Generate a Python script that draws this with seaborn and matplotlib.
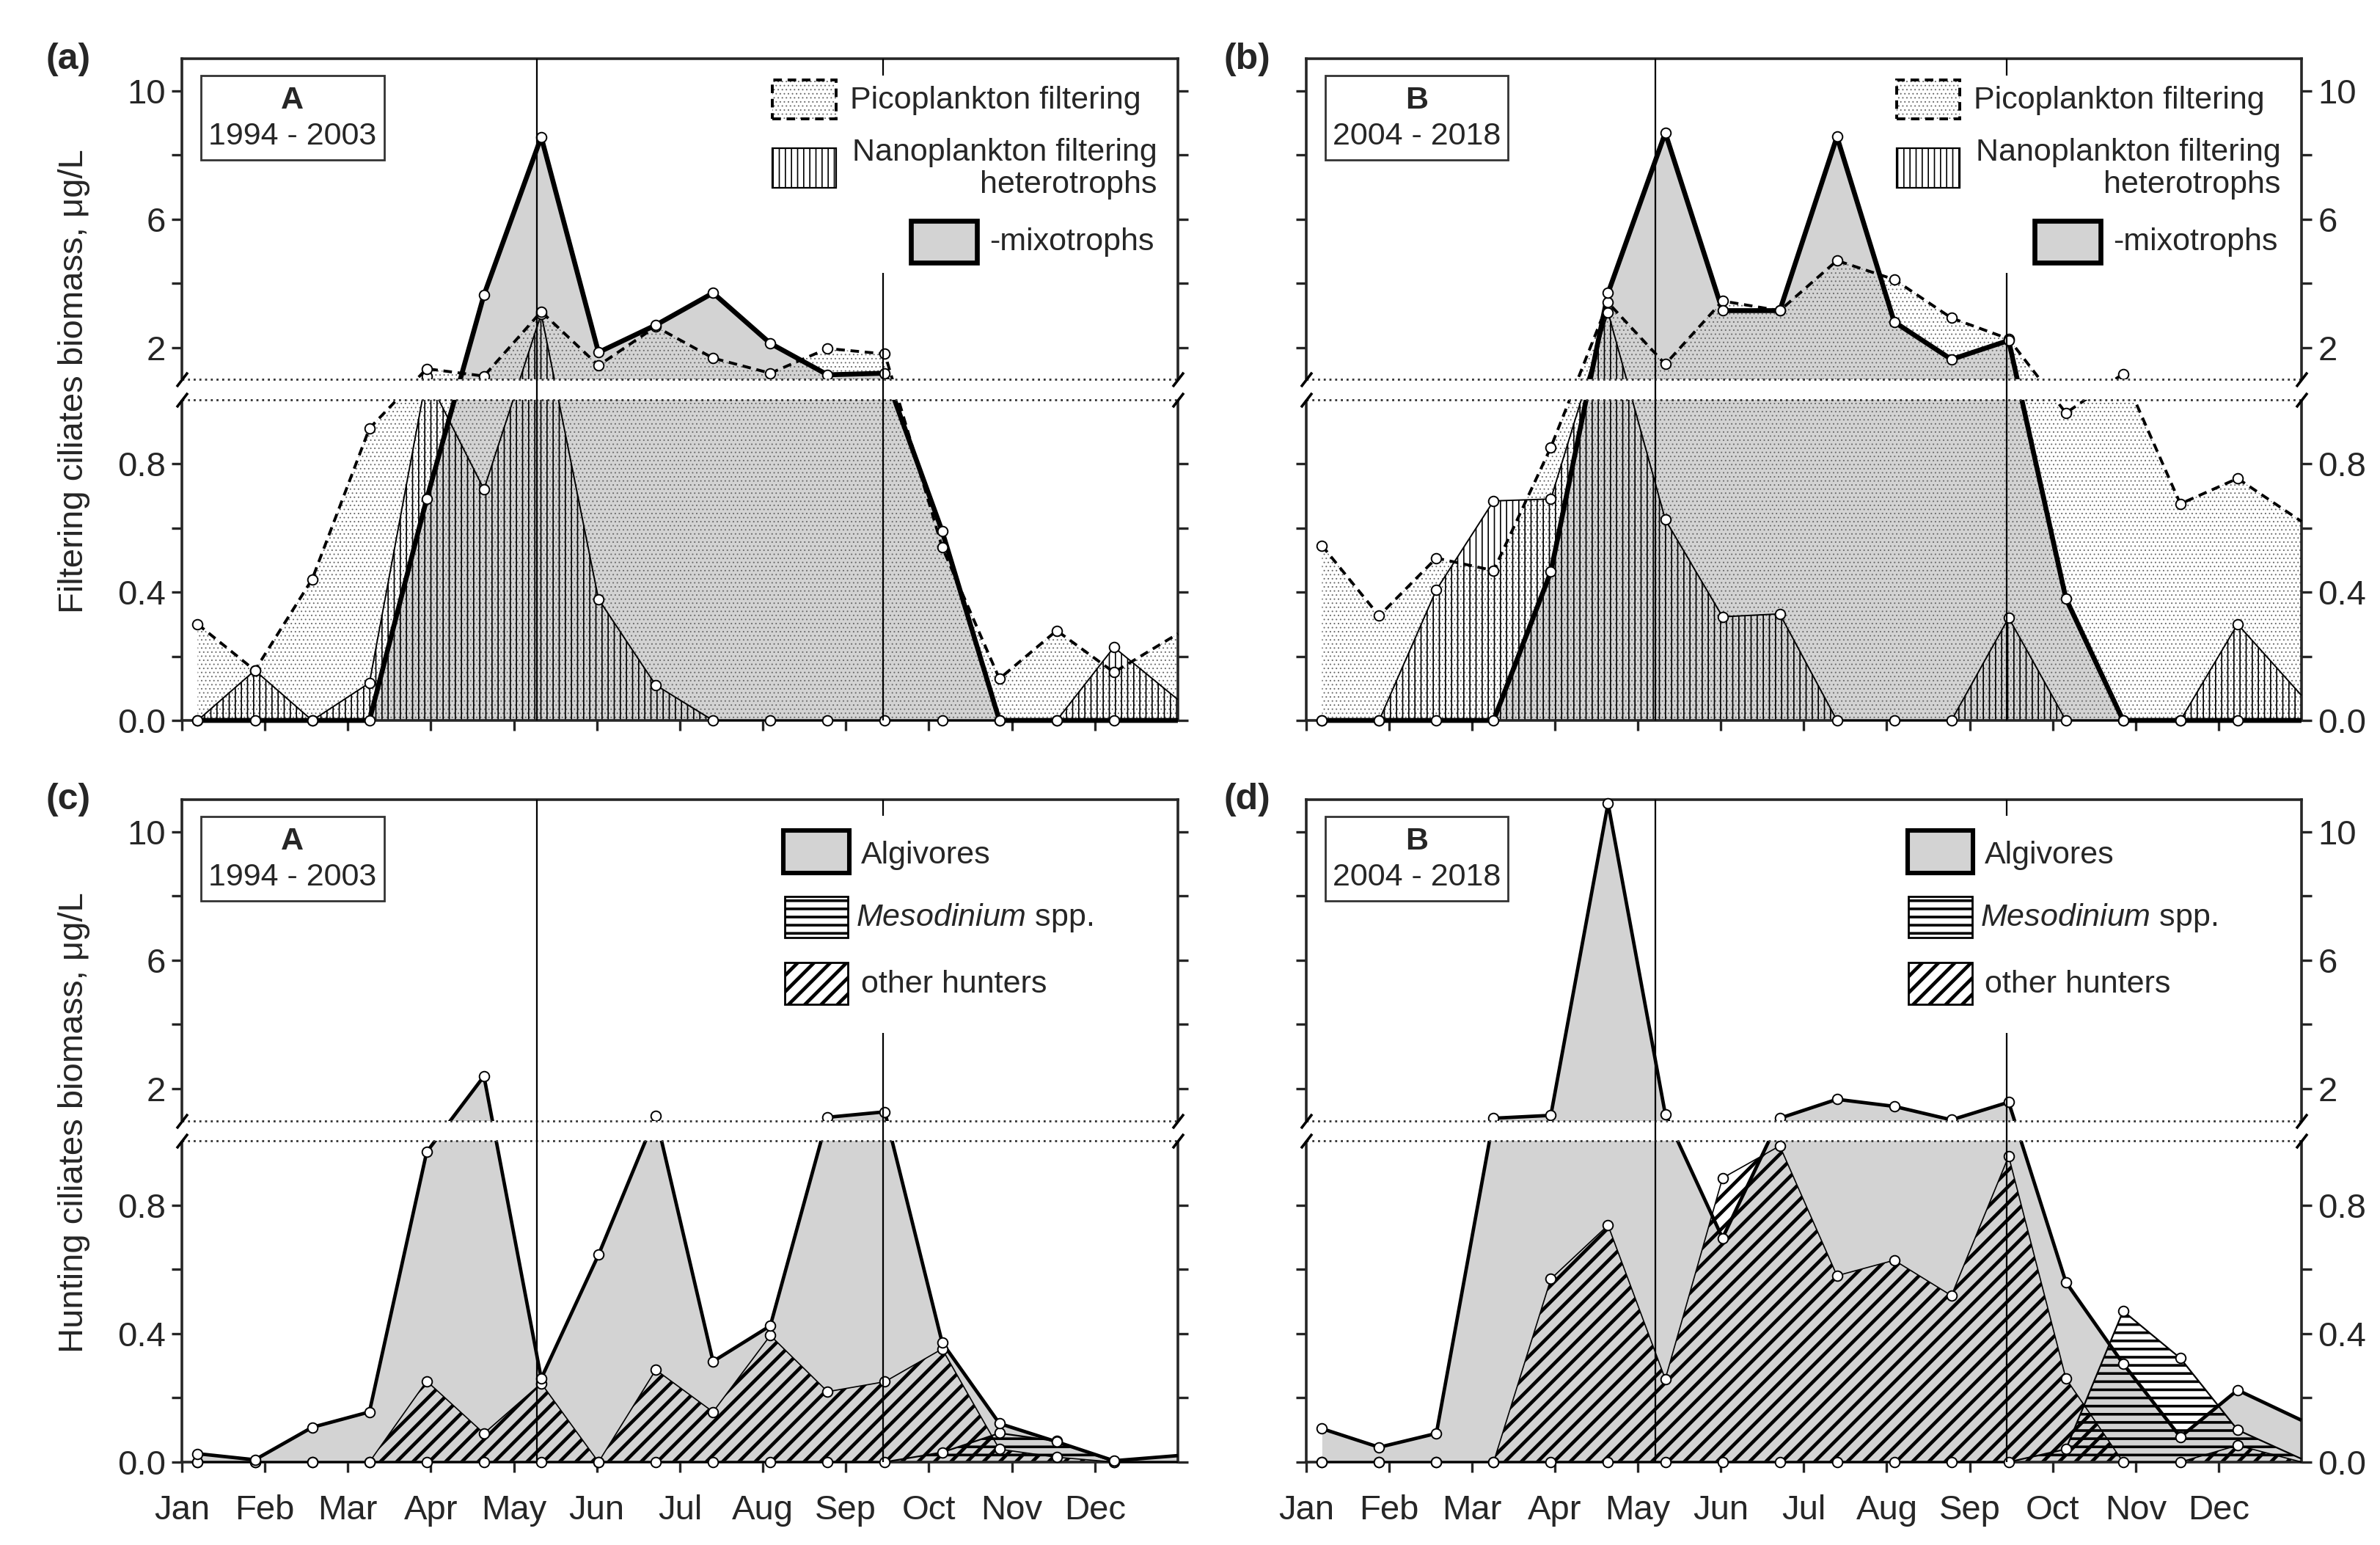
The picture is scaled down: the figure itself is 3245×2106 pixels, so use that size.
import matplotlib
matplotlib.use("Agg")
import matplotlib.pyplot as plt
import matplotlib.patches as mpatches
import numpy as np
import seaborn as sns

# sampling dates, in months from 1 January (last entry = year end, line only)
sample_month = [0.19, 0.88, 1.57, 2.26, 2.95, 3.64, 4.33, 5.02, 5.71, 6.40,
                7.09, 7.78, 8.47, 9.16, 9.85, 10.54, 11.23, 12.0]
month_labels = ["Jan", "Feb", "Mar", "Apr", "May", "Jun",
                "Jul", "Aug", "Sep", "Oct", "Nov", "Dec"]

# filtering ciliates biomass, ug/L
pico_a = [0.30, 0.156, 0.44, 0.91, 1.34, 1.11, 3.12, 1.44, 2.65, 1.67, 1.20, 1.97,
          1.80, 0.54, 0.13, 0.28, 0.15, 0.27]
hetero_a = [0, 0.156, 0, 0.117, 1.11, 0.72, 3.05, 0.378, 0.11, 0, 0, 0,
            0, 0, 0, 0, 0.228, 0.065]
mixo_a = [0, 0, 0, 0, 0.69, 3.64, 8.56, 1.85, 2.70, 3.70, 2.13, 1.15,
          1.20, 0.59, 0, 0, 0, 0]

pico_b = [0.545, 0.326, 0.506, 0.467, 0.851, 3.40, 1.48, 3.45, 3.15, 4.71, 4.12, 2.92,
          2.27, 0.958, 1.18, 0.675, 0.754, 0.62]
hetero_b = [0, 0, 0.407, 0.684, 0.69, 3.10, 0.626, 0.323, 0.332, 0, 0, 0,
            0.32, 0, 0, 0, 0.30, 0.078]
mixo_b = [0, 0, 0, 0, 0.463, 3.70, 8.69, 3.15, 3.15, 8.57, 2.80, 1.63,
          2.22, 0.38, 0, 0, 0, 0]

# hunting ciliates biomass, ug/L
algiv_c = [0.026, 0.007, 0.108, 0.156, 0.965, 2.39, 0.26, 0.645, 1.15, 0.313, 0.424, 1.11,
           1.28, 0.372, 0.12, 0.063, 0.004, 0.02]
meso_c = [0, 0, 0, 0, 0, 0, 0, 0, 0, 0, 0, 0,
          0, 0.03, 0.09, 0.065, 0, 0]
other_c = [0, 0, 0, 0, 0.252, 0.089, 0.245, 0, 0.287, 0.156, 0.394, 0.219,
           0.25, 0.352, 0.04, 0.015, 0, 0]

algiv_d = [0.104, 0.046, 0.089, 1.08, 1.17, 10.88, 1.21, 0.697, 1.08, 1.67, 1.45, 1.03,
           1.58, 0.56, 0.306, 0.078, 0.224, 0.13]
meso_d = [0, 0, 0, 0, 0, 0, 0, 0, 0, 0, 0, 0,
          0, 0.04, 0.47, 0.323, 0.10, 0.01]
other_d = [0, 0, 0, 0, 0.57, 0.737, 0.258, 0.884, 0.984, 0.58, 0.628, 0.518,
           0.952, 0.26, 0, 0, 0.052, 0]

season_ac = [4.28, 8.45]
season_bd = [4.21, 8.45]

y_major = [0, 0.4, 0.8, 2, 6, 10]
y_major_labels = ["0.0", "0.4", "0.8", "2", "6", "10"]
y_minor = [0.2, 0.6, 4, 8]

GREY = "#d3d3d3"
DOTS = "#6a6a6a"

sns.set_theme(style="ticks")
plt.rcParams["font.family"] = ["Liberation Sans", "DejaVu Sans"]
plt.rcParams["mathtext.fontset"] = "custom"
plt.rcParams["mathtext.it"] = "Liberation Sans:italic"
plt.rcParams["mathtext.rm"] = "Liberation Sans"
plt.rcParams["hatch.linewidth"] = 0.8

# broken y axis: 0-1 and 1-11 get the same height, with a small gap between
GAP = 0.062
UPPER = 0.1


def fwd(y):
    y = np.asarray(y, dtype=float)
    return np.where(y <= 1, y, 1 + GAP + (y - 1) * UPPER)


def inv(t):
    t = np.asarray(t, dtype=float)
    return np.where(t <= 1, t, np.where(t <= 1 + GAP, 1.0, 1 + (t - 1 - GAP) / UPPER))


TOP = float(fwd(11))
BREAK_LO = 1 / TOP
BREAK_HI = (1 + GAP) / TOP


def hatch_fill(ax, y, hatch, color, hlw, z):
    with plt.rc_context({"hatch.linewidth": hlw}):
        coll = ax.fill_between(sample_month, y, facecolor="none", edgecolor=color,
                               hatch=hatch, linewidth=0, zorder=z)
    if hasattr(coll, "set_hatch_linewidth"):
        coll.set_hatch_linewidth(hlw)


def key_patch(ax, xy, w, h, hlw=None, **kw):
    with plt.rc_context({"hatch.linewidth": hlw or 0.8}):
        p = mpatches.Rectangle(xy, w, h, transform=ax.transAxes, zorder=9, clip_on=False, **kw)
    if hlw and hasattr(p, "set_hatch_linewidth"):
        p.set_hatch_linewidth(hlw)
    ax.add_patch(p)


def add_line(ax, y, **kw):
    sns.lineplot(x=sample_month, y=y, ax=ax, color="black", clip_on=False,
                 solid_capstyle="butt", **kw)


def add_points(ax, y):
    sns.scatterplot(x=sample_month[:-1], y=y[:-1], ax=ax, color="white", edgecolor="black",
                    s=24, linewidth=0.7, zorder=5, clip_on=False)


def finish_axis(ax, side, show_months, season, tag, years, bg_bottom):
    ax.set_ylim(0, 11)
    ax.set_xlim(0, 12)
    ax.set_xticks(range(12))
    ax.set_xticklabels(month_labels if show_months else [])
    ax.set_yticks(y_major, y_major_labels)
    ax.set_yticks(y_minor, minor=True)
    ax.tick_params(which="both", direction="out", length=5, width=1.2, labelsize=17,
                   top=False, bottom=True, left=True, right=True)
    ax.tick_params(axis="y", labelleft=(side == "left"), labelright=(side == "right"), pad=3)
    ax.tick_params(axis="x", pad=11)
    for sp in ax.spines.values():
        sp.set_linewidth(1.3)
    ax.set_xlabel("")
    ax.set_ylabel("")

    for v in season:
        ax.axvline(v, color="black", linewidth=0.8, zorder=7)

    # axis break
    ax.add_patch(mpatches.Rectangle((-0.03, BREAK_LO), 1.06, BREAK_HI - BREAK_LO,
                                    transform=ax.transAxes, facecolor="white",
                                    edgecolor="none", clip_on=False, zorder=6))
    for yb in (BREAK_LO, BREAK_HI):
        ax.plot([0, 1], [yb, yb], transform=ax.transAxes, linestyle=(0, (1, 1.8)),
                color="#333333", linewidth=1.0, clip_on=False, zorder=6.5)
        ax.plot([0, 1], [yb, yb], transform=ax.transAxes, linestyle="none",
                marker=[(-1, -1.3), (1, 1.3)], markersize=7, markeredgewidth=1.3,
                color="black", clip_on=False, zorder=7.5)

    # white legend background hides the second season line
    ax.add_patch(mpatches.Rectangle((0.585, bg_bottom), 0.405, 0.975 - bg_bottom,
                                    transform=ax.transAxes, facecolor="white",
                                    edgecolor="none", zorder=8))

    # site / period box
    ax.add_patch(mpatches.Rectangle((0.0195, 0.847), 0.1835, 0.1275, transform=ax.transAxes,
                                    facecolor="white", edgecolor="#333333", linewidth=1.0,
                                    zorder=9))
    ax.text(0.111, 0.9368, tag, transform=ax.transAxes, ha="center", va="center",
            fontsize=15.5, fontweight="bold", zorder=10)
    ax.text(0.111, 0.8825, years, transform=ax.transAxes, ha="center", va="center",
            fontsize=15.5, zorder=10)


def filtering_panel(ax, pico, hetero, mixo, season, side, tag, years):
    ax.set_yscale("function", functions=(fwd, inv))
    ax.fill_between(sample_month, mixo, color=GREY, linewidth=0, zorder=1)
    hatch_fill(ax, pico, "......", DOTS, 0.35, 1.5)
    hatch_fill(ax, hetero, "||||", "black", 0.6, 2)
    add_line(ax, hetero, linewidth=0.7, zorder=3.5)
    add_line(ax, pico, linewidth=1.4, linestyle=(0, (3, 2)), zorder=3.8)
    add_line(ax, mixo, linewidth=2.4, zorder=4)
    for ys in (hetero, pico, mixo):
        add_points(ax, ys)
    finish_axis(ax, side, False, season, tag, years, 0.676)

    # legend
    key_patch(ax, (0.593, 0.909), 0.064, 0.059, hlw=0.35, facecolor="white",
              edgecolor=DOTS, hatch="......", linewidth=0)
    key_patch(ax, (0.593, 0.909), 0.064, 0.059, facecolor="none", edgecolor="black",
              linewidth=1.4, linestyle=(0, (3, 2)))
    ax.text(0.671, 0.9368, "Picoplankton filtering", transform=ax.transAxes,
            ha="left", va="center", fontsize=15.5, zorder=10)
    key_patch(ax, (0.593, 0.805), 0.064, 0.060, hlw=0.6, facecolor="white",
              edgecolor="black", hatch="||||", linewidth=0.8)
    ax.text(0.979, 0.8337, "Nanoplankton filtering\nheterotrophs", transform=ax.transAxes,
            ha="right", va="center", multialignment="right", linespacing=1.1,
            fontsize=15.5, zorder=10)
    key_patch(ax, (0.732, 0.692), 0.066, 0.063, facecolor=GREY, edgecolor="black",
              linewidth=2.4)
    ax.text(0.976, 0.7228, "-mixotrophs", transform=ax.transAxes,
            ha="right", va="center", fontsize=15.5, zorder=10)


def hunting_panel(ax, algiv, meso, other, season, side, tag, years):
    ax.set_yscale("function", functions=(fwd, inv))
    ax.fill_between(sample_month, algiv, color=GREY, linewidth=0, zorder=1)
    hatch_fill(ax, meso, "---", "black", 1.3, 2)
    hatch_fill(ax, other, "///", "black", 1.7, 2.2)
    add_line(ax, other, linewidth=0.6, zorder=3.5)
    add_line(ax, meso, linewidth=0.8, zorder=3.6)
    add_line(ax, algiv, linewidth=1.7, zorder=4)
    for ys in (other, meso, algiv):
        add_points(ax, ys)
    finish_axis(ax, side, True, season, tag, years, 0.648)

    # legend
    key_patch(ax, (0.604, 0.889), 0.066, 0.064, facecolor=GREY, edgecolor="black",
              linewidth=2.2)
    ax.text(0.682, 0.9158, "Algivores", transform=ax.transAxes,
            ha="left", va="center", fontsize=15.5, zorder=10)
    key_patch(ax, (0.605, 0.792), 0.064, 0.062, hlw=1.3, facecolor="white",
              edgecolor="black", hatch="---", linewidth=1.0)
    ax.text(0.677, 0.8217, "$\\mathit{Mesodinium}$ spp.", transform=ax.transAxes,
            ha="left", va="center", fontsize=15.5, zorder=10)
    key_patch(ax, (0.605, 0.691), 0.064, 0.063, hlw=1.7, facecolor="white",
              edgecolor="black", hatch="///", linewidth=1.0)
    ax.text(0.682, 0.7204, "other hunters", transform=ax.transAxes,
            ha="left", va="center", fontsize=15.5, zorder=10)


fig = plt.figure(figsize=(16.225, 10.53), dpi=200, facecolor="white")
ax_a = fig.add_axes([0.0764, 0.5337, 0.4185, 0.4283])
ax_b = fig.add_axes([0.5488, 0.5337, 0.4182, 0.4283])
ax_c = fig.add_axes([0.0764, 0.0537, 0.4185, 0.4288])
ax_d = fig.add_axes([0.5488, 0.0537, 0.4182, 0.4288])

filtering_panel(ax_a, pico_a, hetero_a, mixo_a, season_ac, "left", "A", "1994 - 2003")
filtering_panel(ax_b, pico_b, hetero_b, mixo_b, season_bd, "right", "B", "2004 - 2018")
hunting_panel(ax_c, algiv_c, meso_c, other_c, season_ac, "left", "A", "1994 - 2003")
hunting_panel(ax_d, algiv_d, meso_d, other_d, season_bd, "right", "B", "2004 - 2018")

ax_a.set_ylabel("Filtering ciliates biomass, \u03bcg/L", fontsize=17)
ax_a.yaxis.set_label_coords(-0.092, 0.513)
ax_c.set_ylabel("Hunting ciliates biomass, \u03bcg/L", fontsize=17)
ax_c.yaxis.set_label_coords(-0.092, 0.513)

for tag, (fx, fy) in {"(a)": (0.0287, 0.9615), "(b)": (0.524, 0.9615),
                      "(c)": (0.0287, 0.4824), "(d)": (0.524, 0.4824)}.items():
    fig.text(fx, fy, tag, fontsize=18, fontweight="bold", ha="center", va="center")

fig.savefig("out.png", dpi=200, facecolor="white")
